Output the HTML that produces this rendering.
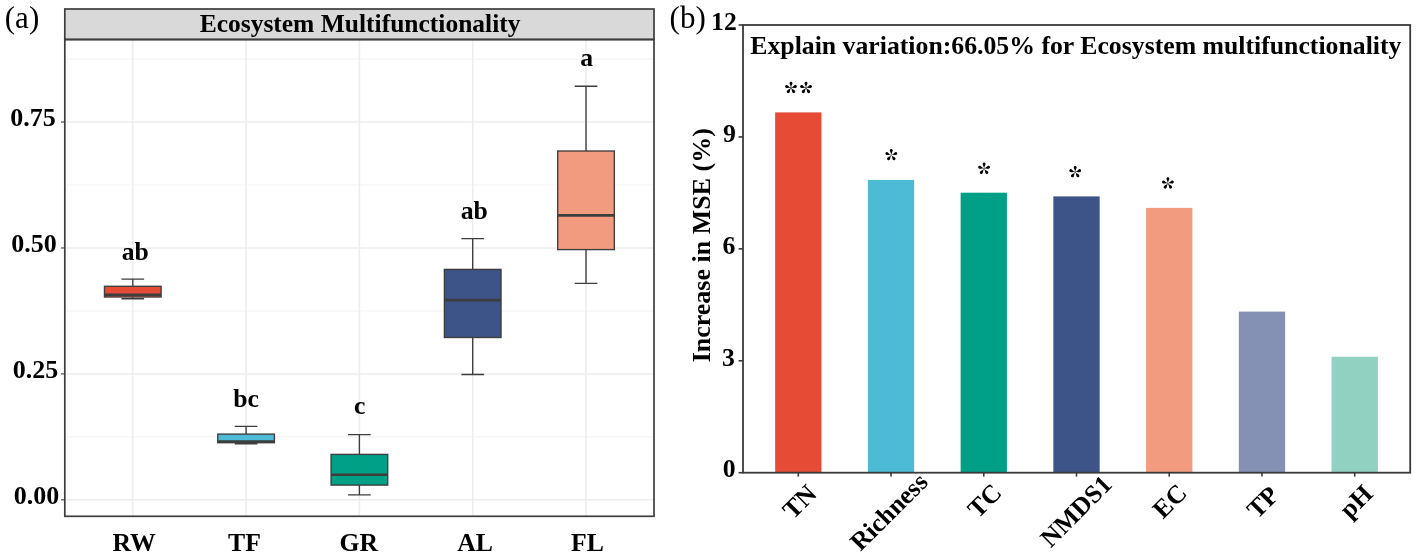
<!DOCTYPE html>
<html><head><meta charset="utf-8"><title>Ecosystem Multifunctionality</title>
<style>html,body{margin:0;padding:0;background:#fff;}svg{display:block;filter:blur(0.45px);}</style></head>
<body><svg width="1417" height="559" viewBox="0 0 1417 559">
<rect width="1417" height="559" fill="#fff"/>
<g stroke="#ededed">
<line x1="64.8" x2="654.0" y1="436.84" y2="436.84" stroke-width="0.7"/>
<line x1="64.8" x2="654.0" y1="310.91" y2="310.91" stroke-width="0.7"/>
<line x1="64.8" x2="654.0" y1="184.99" y2="184.99" stroke-width="0.7"/>
<line x1="64.8" x2="654.0" y1="59.06" y2="59.06" stroke-width="0.7"/>
<line x1="64.8" x2="654.0" y1="499.80" y2="499.80" stroke-width="1.5"/>
<line x1="64.8" x2="654.0" y1="373.88" y2="373.88" stroke-width="1.5"/>
<line x1="64.8" x2="654.0" y1="247.95" y2="247.95" stroke-width="1.5"/>
<line x1="64.8" x2="654.0" y1="122.03" y2="122.03" stroke-width="1.5"/>
<line x1="132.78" x2="132.78" y1="39.5" y2="516.3" stroke-width="1.6"/>
<line x1="246.09" x2="246.09" y1="39.5" y2="516.3" stroke-width="1.6"/>
<line x1="359.40" x2="359.40" y1="39.5" y2="516.3" stroke-width="1.6"/>
<line x1="472.71" x2="472.71" y1="39.5" y2="516.3" stroke-width="1.6"/>
<line x1="586.02" x2="586.02" y1="39.5" y2="516.3" stroke-width="1.6"/>
</g>
<g stroke="#3d3d3d" stroke-width="1.35" fill="none">
<path d="M132.78 279.1V286.3M132.78 297.0V298.7M121.45 279.1H144.12M121.45 298.7H144.12"/>
<rect x="104.46" y="286.3" width="56.65" height="10.70" fill="#E64B35"/>
<path d="M104.46 294.7H161.11" stroke-width="2.6"/>
</g>
<g stroke="#3d3d3d" stroke-width="1.35" fill="none">
<path d="M246.09 426.4V434.1M246.09 442.7V443.7M234.76 426.4H257.42M234.76 443.7H257.42"/>
<rect x="217.77" y="434.1" width="56.65" height="8.60" fill="#4DBBD5"/>
<path d="M217.77 441.5H274.42" stroke-width="2.6"/>
</g>
<g stroke="#3d3d3d" stroke-width="1.35" fill="none">
<path d="M359.40 434.6V454.4M359.40 485.1V494.9M348.07 434.6H370.73M348.07 494.9H370.73"/>
<rect x="331.07" y="454.4" width="56.65" height="30.70" fill="#00A087"/>
<path d="M331.07 474.8H387.73" stroke-width="2.6"/>
</g>
<g stroke="#3d3d3d" stroke-width="1.35" fill="none">
<path d="M472.71 238.6V269.4M472.71 337.5V374.5M461.38 238.6H484.04M461.38 374.5H484.04"/>
<rect x="444.38" y="269.4" width="56.65" height="68.10" fill="#3C5488"/>
<path d="M444.38 300.1H501.03" stroke-width="2.6"/>
</g>
<g stroke="#3d3d3d" stroke-width="1.35" fill="none">
<path d="M586.02 86.2V151.0M586.02 249.6V283.3M574.68 86.2H597.35M574.68 283.3H597.35"/>
<rect x="557.69" y="151.0" width="56.65" height="98.60" fill="#F39B7F"/>
<path d="M557.69 215.4H614.34" stroke-width="2.6"/>
</g>
<rect x="64.8" y="9.0" width="589.2" height="30.5" fill="#d9d9d9" stroke="#3d3d3d" stroke-width="1.7"/>
<rect x="64.8" y="39.5" width="589.2" height="476.79999999999995" fill="none" stroke="#3d3d3d" stroke-width="1.7"/>
<line x1="61" x2="64.8" y1="499.80" y2="499.80" stroke="#3d3d3d" stroke-width="1.1"/>
<line x1="61" x2="64.8" y1="373.88" y2="373.88" stroke="#3d3d3d" stroke-width="1.1"/>
<line x1="61" x2="64.8" y1="247.95" y2="247.95" stroke="#3d3d3d" stroke-width="1.1"/>
<line x1="61" x2="64.8" y1="122.03" y2="122.03" stroke="#3d3d3d" stroke-width="1.1"/>
<rect x="775.15" y="112.4" width="46.3" height="360.30" fill="#E64B35"/>
<rect x="867.88" y="179.9" width="46.3" height="292.80" fill="#4DBBD5"/>
<rect x="960.62" y="192.7" width="46.3" height="280.00" fill="#00A087"/>
<rect x="1053.35" y="196.4" width="46.3" height="276.30" fill="#3C5488"/>
<rect x="1146.08" y="207.9" width="46.3" height="264.80" fill="#F39B7F"/>
<rect x="1238.82" y="311.6" width="46.3" height="161.10" fill="#8491B4"/>
<rect x="1331.55" y="356.7" width="46.3" height="116.00" fill="#91D1C2"/>
<rect x="743.0" y="25.0" width="667.20" height="447.70" fill="none" stroke="#3a3a3a" stroke-width="1.8"/>
<g stroke="#3a3a3a" stroke-width="1.6">
<line x1="738.6" x2="743.0" y1="472.70" y2="472.70"/>
<line x1="738.6" x2="743.0" y1="360.77" y2="360.77"/>
<line x1="738.6" x2="743.0" y1="248.85" y2="248.85"/>
<line x1="738.6" x2="743.0" y1="136.93" y2="136.93"/>
<line x1="738.6" x2="743.0" y1="25.00" y2="25.00"/>
<line x1="798.30" x2="798.30" y1="472.7" y2="476.6"/>
<line x1="891.03" x2="891.03" y1="472.7" y2="476.6"/>
<line x1="983.77" x2="983.77" y1="472.7" y2="476.6"/>
<line x1="1076.50" x2="1076.50" y1="472.7" y2="476.6"/>
<line x1="1169.23" x2="1169.23" y1="472.7" y2="476.6"/>
<line x1="1261.97" x2="1261.97" y1="472.7" y2="476.6"/>
<line x1="1354.70" x2="1354.70" y1="472.7" y2="476.6"/>
</g>
<g font-family="Liberation Serif, serif" fill="#000">
<text transform="translate(22.00,27.50)" text-anchor="middle" font-size="31">(a)</text>
<text transform="translate(687.70,28.25)" text-anchor="middle" font-size="31">(b)</text>
<text transform="translate(723.95,29.65)" text-anchor="middle" font-weight="bold" font-size="25.7">12</text>
<text transform="translate(729.30,141.60)" text-anchor="middle" font-weight="bold" font-size="25.7">9</text>
<text transform="translate(728.80,253.50)" text-anchor="middle" font-weight="bold" font-size="25.7">6</text>
<text transform="translate(728.30,365.50)" text-anchor="middle" font-weight="bold" font-size="25.7">3</text>
<text transform="translate(729.10,477.45)" text-anchor="middle" font-weight="bold" font-size="25.7">0</text>
<text transform="translate(36.50,503.80)" text-anchor="middle" font-weight="bold" font-size="26">0.00</text>
<text transform="translate(35.40,378.00)" text-anchor="middle" font-weight="bold" font-size="26">0.25</text>
<text transform="translate(34.05,251.90)" text-anchor="middle" font-weight="bold" font-size="26">0.50</text>
<text transform="translate(33.10,126.10)" text-anchor="middle" font-weight="bold" font-size="26">0.75</text>
<text transform="translate(360.05,32.05)" text-anchor="middle" font-weight="bold" font-size="25.5">Ecosystem Multifunctionality</text>
<text transform="translate(1075.85,54.25)" text-anchor="middle" font-weight="bold" font-size="25.75">Explain variation:66.05% for Ecosystem multifunctionality</text>
<text transform="translate(134.05,550.70)" text-anchor="middle" font-weight="bold" font-size="25.7">RW</text>
<text transform="translate(244.50,550.70)" text-anchor="middle" font-weight="bold" font-size="25.7">TF</text>
<text transform="translate(358.85,550.75)" text-anchor="middle" font-weight="bold" font-size="25.7">GR</text>
<text transform="translate(475.15,550.70)" text-anchor="middle" font-weight="bold" font-size="25.7">AL</text>
<text transform="translate(587.40,550.70)" text-anchor="middle" font-weight="bold" font-size="25.7">FL</text>
<text transform="translate(135.30,259.55)" text-anchor="middle" font-weight="bold" font-size="25.7">ab</text>
<text transform="translate(246.05,406.65)" text-anchor="middle" font-weight="bold" font-size="25.7">bc</text>
<text transform="translate(359.80,414.05)" text-anchor="middle" font-weight="bold" font-size="25.7">c</text>
<text transform="translate(474.30,219.25)" text-anchor="middle" font-weight="bold" font-size="25.7">ab</text>
<text transform="translate(586.70,65.85)" text-anchor="middle" font-weight="bold" font-size="25.7">a</text>
<text transform="translate(710.10,245.25) rotate(-90)" text-anchor="middle" font-weight="bold" font-size="26">Increase in MSE (%)</text>
<text transform="translate(805.50,507.75) rotate(-45)" text-anchor="middle" font-weight="bold" font-size="25.7">TN</text>
<text transform="translate(894.90,517.80) rotate(-45)" text-anchor="middle" font-weight="bold" font-size="25.7">Richness</text>
<text transform="translate(990.50,506.75) rotate(-45)" text-anchor="middle" font-weight="bold" font-size="25.7">TC</text>
<text transform="translate(1082.10,517.10) rotate(-45)" text-anchor="middle" font-weight="bold" font-size="25.7">NMDS1</text>
<text transform="translate(1175.65,507.05) rotate(-45)" text-anchor="middle" font-weight="bold" font-size="25.7">EC</text>
<text transform="translate(1268.75,508.15) rotate(-45)" text-anchor="middle" font-weight="bold" font-size="25.7">TP</text>
<text transform="translate(1361.95,507.40) rotate(-45)" text-anchor="middle" font-weight="bold" font-size="25.7">pH</text>
</g>
<g transform="translate(791,87.9)"><path d="M-0.12 0C-0.2-2.6-1.5-3.4-1.5-4.6C-1.5-5.5-0.85-6.1 0-6.1C0.85-6.1 1.5-5.5 1.5-4.6C1.5-3.4 0.2-2.6 0.12 0Z" transform="rotate(0)"/><path d="M-0.12 0C-0.2-2.6-1.5-3.4-1.5-4.6C-1.5-5.5-0.85-6.1 0-6.1C0.85-6.1 1.5-5.5 1.5-4.6C1.5-3.4 0.2-2.6 0.12 0Z" transform="rotate(72)"/><path d="M-0.12 0C-0.2-2.6-1.5-3.4-1.5-4.6C-1.5-5.5-0.85-6.1 0-6.1C0.85-6.1 1.5-5.5 1.5-4.6C1.5-3.4 0.2-2.6 0.12 0Z" transform="rotate(144)"/><path d="M-0.12 0C-0.2-2.6-1.5-3.4-1.5-4.6C-1.5-5.5-0.85-6.1 0-6.1C0.85-6.1 1.5-5.5 1.5-4.6C1.5-3.4 0.2-2.6 0.12 0Z" transform="rotate(216)"/><path d="M-0.12 0C-0.2-2.6-1.5-3.4-1.5-4.6C-1.5-5.5-0.85-6.1 0-6.1C0.85-6.1 1.5-5.5 1.5-4.6C1.5-3.4 0.2-2.6 0.12 0Z" transform="rotate(288)"/></g>
<g transform="translate(806,87.9)"><path d="M-0.12 0C-0.2-2.6-1.5-3.4-1.5-4.6C-1.5-5.5-0.85-6.1 0-6.1C0.85-6.1 1.5-5.5 1.5-4.6C1.5-3.4 0.2-2.6 0.12 0Z" transform="rotate(0)"/><path d="M-0.12 0C-0.2-2.6-1.5-3.4-1.5-4.6C-1.5-5.5-0.85-6.1 0-6.1C0.85-6.1 1.5-5.5 1.5-4.6C1.5-3.4 0.2-2.6 0.12 0Z" transform="rotate(72)"/><path d="M-0.12 0C-0.2-2.6-1.5-3.4-1.5-4.6C-1.5-5.5-0.85-6.1 0-6.1C0.85-6.1 1.5-5.5 1.5-4.6C1.5-3.4 0.2-2.6 0.12 0Z" transform="rotate(144)"/><path d="M-0.12 0C-0.2-2.6-1.5-3.4-1.5-4.6C-1.5-5.5-0.85-6.1 0-6.1C0.85-6.1 1.5-5.5 1.5-4.6C1.5-3.4 0.2-2.6 0.12 0Z" transform="rotate(216)"/><path d="M-0.12 0C-0.2-2.6-1.5-3.4-1.5-4.6C-1.5-5.5-0.85-6.1 0-6.1C0.85-6.1 1.5-5.5 1.5-4.6C1.5-3.4 0.2-2.6 0.12 0Z" transform="rotate(288)"/></g>
<g transform="translate(891.3,155.0)"><path d="M-0.12 0C-0.2-2.6-1.5-3.4-1.5-4.6C-1.5-5.5-0.85-6.1 0-6.1C0.85-6.1 1.5-5.5 1.5-4.6C1.5-3.4 0.2-2.6 0.12 0Z" transform="rotate(0)"/><path d="M-0.12 0C-0.2-2.6-1.5-3.4-1.5-4.6C-1.5-5.5-0.85-6.1 0-6.1C0.85-6.1 1.5-5.5 1.5-4.6C1.5-3.4 0.2-2.6 0.12 0Z" transform="rotate(72)"/><path d="M-0.12 0C-0.2-2.6-1.5-3.4-1.5-4.6C-1.5-5.5-0.85-6.1 0-6.1C0.85-6.1 1.5-5.5 1.5-4.6C1.5-3.4 0.2-2.6 0.12 0Z" transform="rotate(144)"/><path d="M-0.12 0C-0.2-2.6-1.5-3.4-1.5-4.6C-1.5-5.5-0.85-6.1 0-6.1C0.85-6.1 1.5-5.5 1.5-4.6C1.5-3.4 0.2-2.6 0.12 0Z" transform="rotate(216)"/><path d="M-0.12 0C-0.2-2.6-1.5-3.4-1.5-4.6C-1.5-5.5-0.85-6.1 0-6.1C0.85-6.1 1.5-5.5 1.5-4.6C1.5-3.4 0.2-2.6 0.12 0Z" transform="rotate(288)"/></g>
<g transform="translate(984.1,168.7)"><path d="M-0.12 0C-0.2-2.6-1.5-3.4-1.5-4.6C-1.5-5.5-0.85-6.1 0-6.1C0.85-6.1 1.5-5.5 1.5-4.6C1.5-3.4 0.2-2.6 0.12 0Z" transform="rotate(0)"/><path d="M-0.12 0C-0.2-2.6-1.5-3.4-1.5-4.6C-1.5-5.5-0.85-6.1 0-6.1C0.85-6.1 1.5-5.5 1.5-4.6C1.5-3.4 0.2-2.6 0.12 0Z" transform="rotate(72)"/><path d="M-0.12 0C-0.2-2.6-1.5-3.4-1.5-4.6C-1.5-5.5-0.85-6.1 0-6.1C0.85-6.1 1.5-5.5 1.5-4.6C1.5-3.4 0.2-2.6 0.12 0Z" transform="rotate(144)"/><path d="M-0.12 0C-0.2-2.6-1.5-3.4-1.5-4.6C-1.5-5.5-0.85-6.1 0-6.1C0.85-6.1 1.5-5.5 1.5-4.6C1.5-3.4 0.2-2.6 0.12 0Z" transform="rotate(216)"/><path d="M-0.12 0C-0.2-2.6-1.5-3.4-1.5-4.6C-1.5-5.5-0.85-6.1 0-6.1C0.85-6.1 1.5-5.5 1.5-4.6C1.5-3.4 0.2-2.6 0.12 0Z" transform="rotate(288)"/></g>
<g transform="translate(1075.2,172.05)"><path d="M-0.12 0C-0.2-2.6-1.5-3.4-1.5-4.6C-1.5-5.5-0.85-6.1 0-6.1C0.85-6.1 1.5-5.5 1.5-4.6C1.5-3.4 0.2-2.6 0.12 0Z" transform="rotate(0)"/><path d="M-0.12 0C-0.2-2.6-1.5-3.4-1.5-4.6C-1.5-5.5-0.85-6.1 0-6.1C0.85-6.1 1.5-5.5 1.5-4.6C1.5-3.4 0.2-2.6 0.12 0Z" transform="rotate(72)"/><path d="M-0.12 0C-0.2-2.6-1.5-3.4-1.5-4.6C-1.5-5.5-0.85-6.1 0-6.1C0.85-6.1 1.5-5.5 1.5-4.6C1.5-3.4 0.2-2.6 0.12 0Z" transform="rotate(144)"/><path d="M-0.12 0C-0.2-2.6-1.5-3.4-1.5-4.6C-1.5-5.5-0.85-6.1 0-6.1C0.85-6.1 1.5-5.5 1.5-4.6C1.5-3.4 0.2-2.6 0.12 0Z" transform="rotate(216)"/><path d="M-0.12 0C-0.2-2.6-1.5-3.4-1.5-4.6C-1.5-5.5-0.85-6.1 0-6.1C0.85-6.1 1.5-5.5 1.5-4.6C1.5-3.4 0.2-2.6 0.12 0Z" transform="rotate(288)"/></g>
<g transform="translate(1167.9,183.4)"><path d="M-0.12 0C-0.2-2.6-1.5-3.4-1.5-4.6C-1.5-5.5-0.85-6.1 0-6.1C0.85-6.1 1.5-5.5 1.5-4.6C1.5-3.4 0.2-2.6 0.12 0Z" transform="rotate(0)"/><path d="M-0.12 0C-0.2-2.6-1.5-3.4-1.5-4.6C-1.5-5.5-0.85-6.1 0-6.1C0.85-6.1 1.5-5.5 1.5-4.6C1.5-3.4 0.2-2.6 0.12 0Z" transform="rotate(72)"/><path d="M-0.12 0C-0.2-2.6-1.5-3.4-1.5-4.6C-1.5-5.5-0.85-6.1 0-6.1C0.85-6.1 1.5-5.5 1.5-4.6C1.5-3.4 0.2-2.6 0.12 0Z" transform="rotate(144)"/><path d="M-0.12 0C-0.2-2.6-1.5-3.4-1.5-4.6C-1.5-5.5-0.85-6.1 0-6.1C0.85-6.1 1.5-5.5 1.5-4.6C1.5-3.4 0.2-2.6 0.12 0Z" transform="rotate(216)"/><path d="M-0.12 0C-0.2-2.6-1.5-3.4-1.5-4.6C-1.5-5.5-0.85-6.1 0-6.1C0.85-6.1 1.5-5.5 1.5-4.6C1.5-3.4 0.2-2.6 0.12 0Z" transform="rotate(288)"/></g>
</svg></body></html>
